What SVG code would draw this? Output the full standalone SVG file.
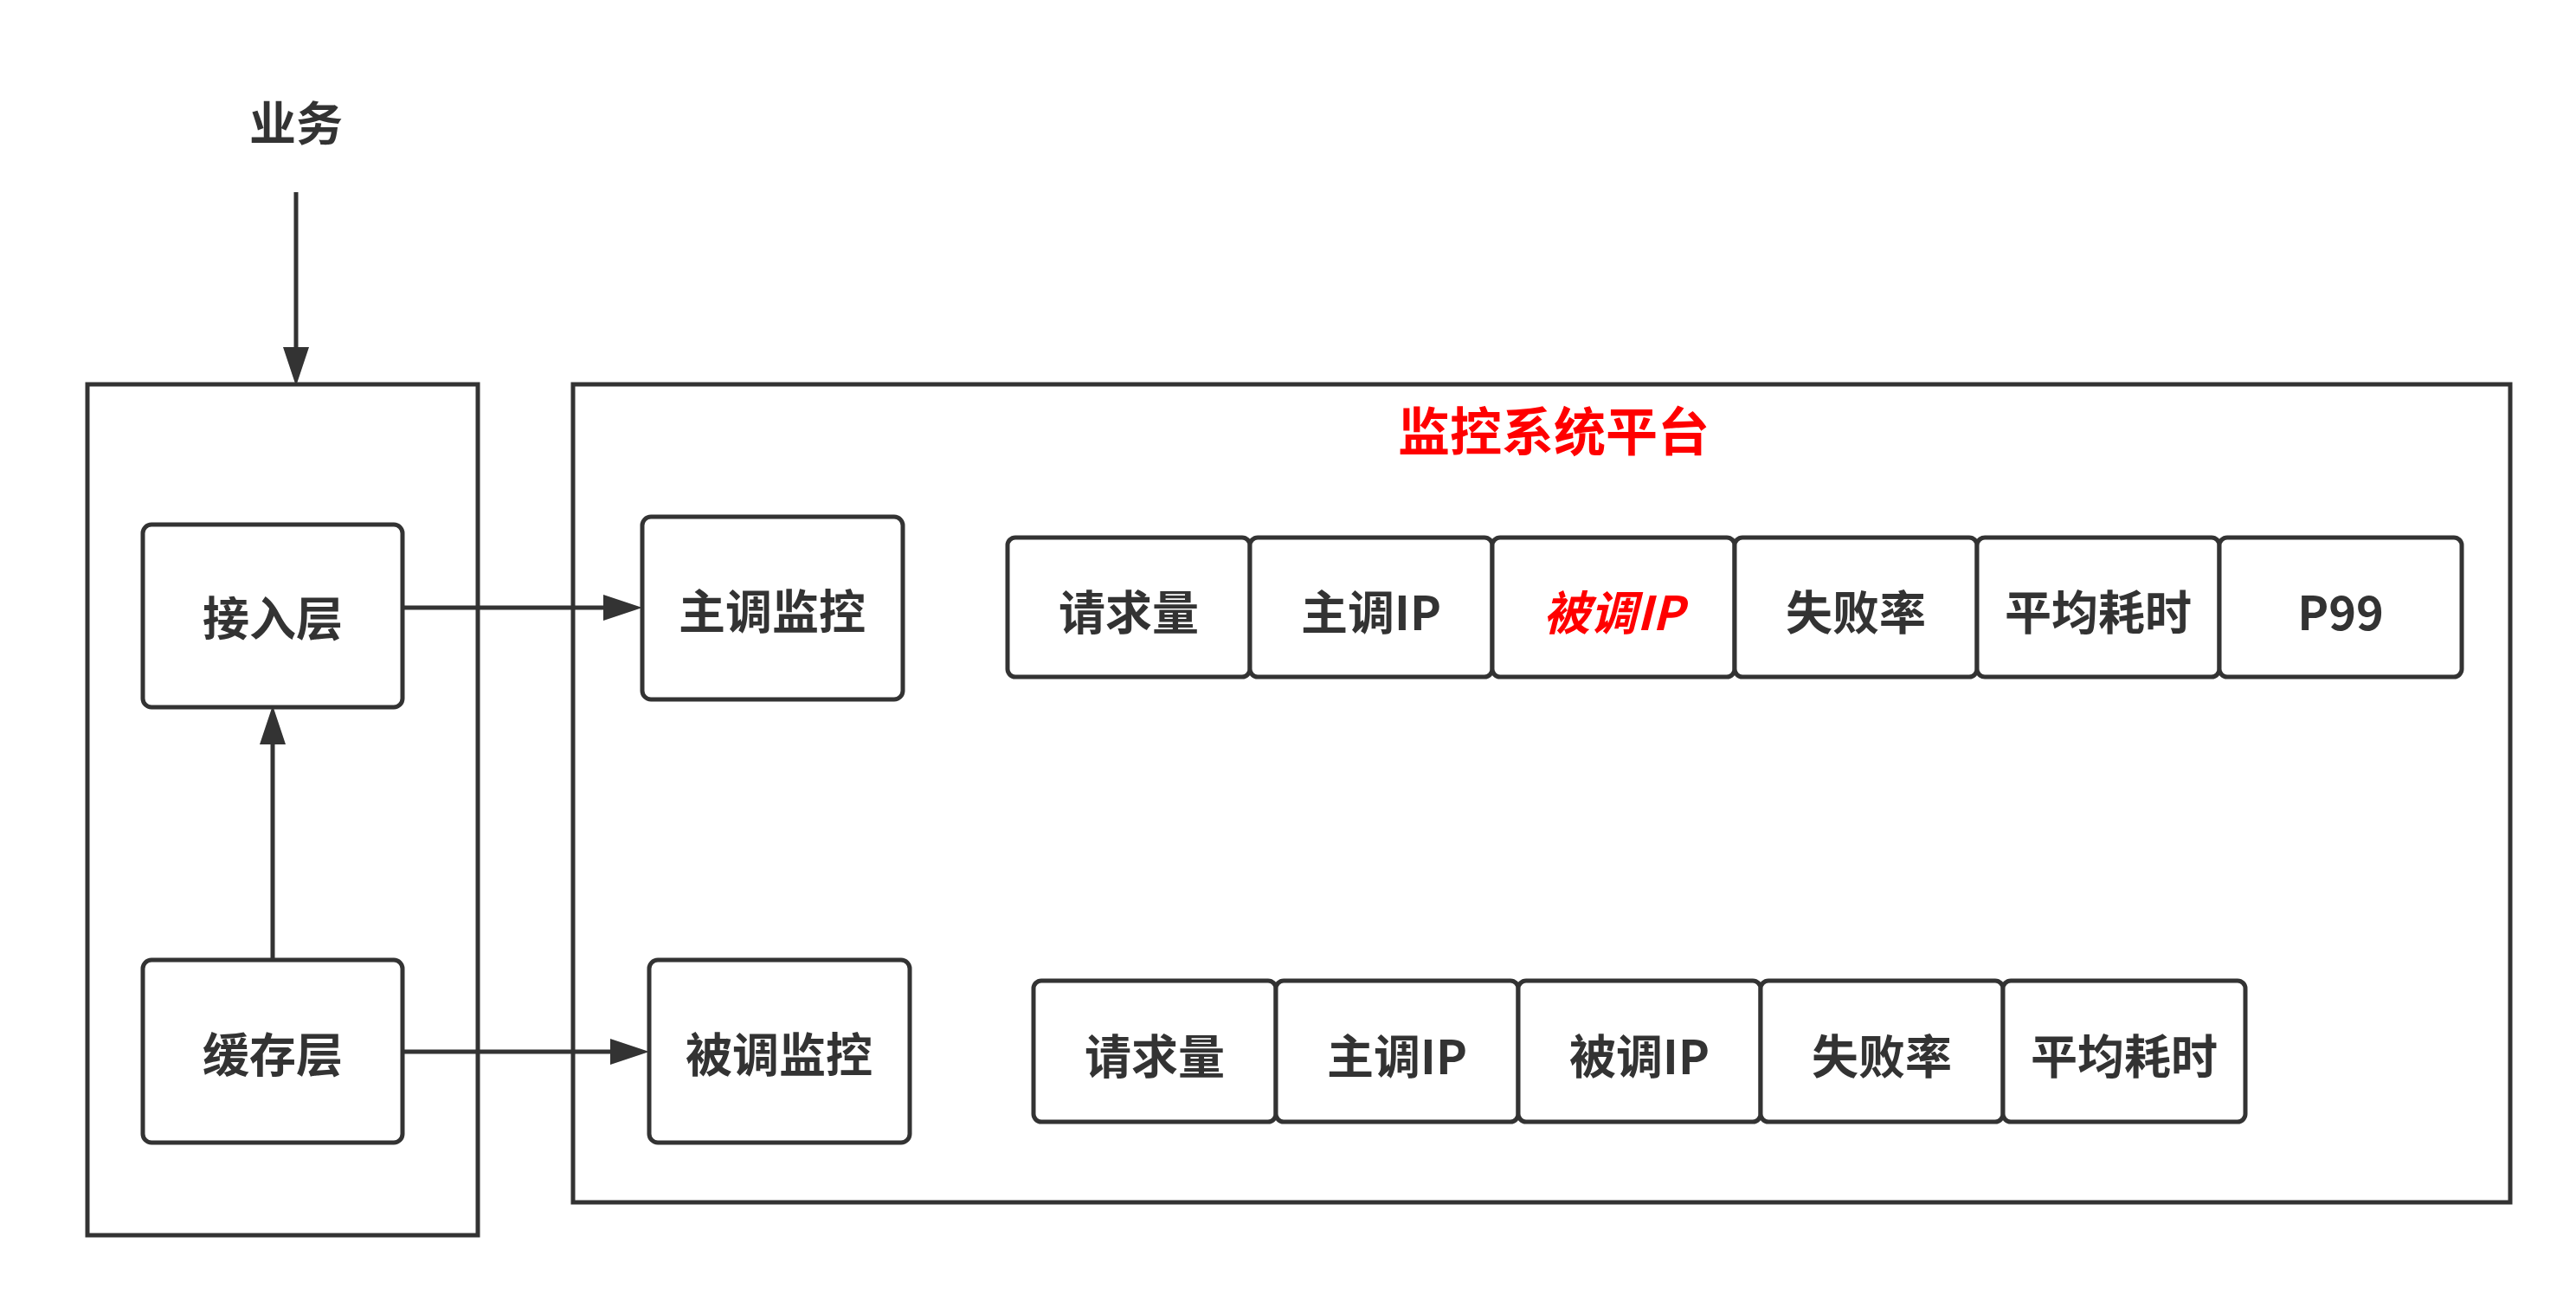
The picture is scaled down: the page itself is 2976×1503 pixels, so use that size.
<svg xmlns="http://www.w3.org/2000/svg" width="2976" height="1503" viewBox="0 0 2976 1503">
<defs>
<style>
.box{fill:#ffffff;stroke:#333333;stroke-width:5}
.frame{fill:none;stroke:#333333;stroke-width:5}
.t{font-family:"Noto Sans CJK SC","Noto Sans",sans-serif;font-weight:bold;font-size:54px;fill:#333333;text-anchor:middle;dominant-baseline:central}
.red{fill:#ff0000}
.edge{fill:none;stroke:#333333;stroke-width:5}
</style>
<marker id="arr" markerUnits="userSpaceOnUse" markerWidth="46" markerHeight="32" refX="1" refY="16" orient="auto">
<path d="M0,1 L45,16 L0,31 z" fill="#333333"/>
</marker>
</defs>
<rect width="2976" height="1503" fill="#ffffff"/>

<g id="frame-left"><rect class="frame" x="101" y="444" width="451" height="983"/></g>
<g id="frame-platform">
<rect class="frame" x="662" y="444" width="2238" height="945"/>
<text class="t red" x="1795" y="494" style="font-size:60px">监控系统平台</text>
</g>

<g id="yewu"><text class="t" x="342" y="139">业务</text></g>

<g id="jieru"><rect class="box" x="165" y="606" width="300" height="211" rx="10"/><text class="t" x="315" y="711">接入层</text></g>
<g id="huancun"><rect class="box" x="165" y="1109" width="300" height="211" rx="10"/><text class="t" x="315" y="1215">缓存层</text></g>
<g id="zhudiao"><rect class="box" x="742" y="597" width="301" height="211" rx="10"/><text class="t" x="892" y="703">主调监控</text></g>
<g id="beidiao"><rect class="box" x="750" y="1109" width="301" height="211" rx="10"/><text class="t" x="900" y="1215">被调监控</text></g>

<g id="r1c1"><rect class="box" x="1164" y="621" width="280" height="161" rx="9"/><text class="t" x="1304" y="704">请求量</text></g>
<g id="r1c2"><rect class="box" x="1444" y="621" width="280" height="161" rx="9"/><text class="t" x="1584" y="704">主调IP</text></g>
<g id="r1c3"><rect class="box" x="1724" y="621" width="280" height="161" rx="9"/><text class="t red" x="1864" y="704" font-style="italic">被调IP</text></g>
<g id="r1c4"><rect class="box" x="2004" y="621" width="280" height="161" rx="9"/><text class="t" x="2144" y="704">失败率</text></g>
<g id="r1c5"><rect class="box" x="2284" y="621" width="280" height="161" rx="9"/><text class="t" x="2424" y="704">平均耗时</text></g>
<g id="r1c6"><rect class="box" x="2564" y="621" width="280" height="161" rx="9"/><text class="t" x="2704" y="704">P99</text></g>

<g id="r2c1"><rect class="box" x="1194" y="1133" width="280" height="163" rx="9"/><text class="t" x="1334" y="1217">请求量</text></g>
<g id="r2c2"><rect class="box" x="1474" y="1133" width="280" height="163" rx="9"/><text class="t" x="1614" y="1217">主调IP</text></g>
<g id="r2c3"><rect class="box" x="1754" y="1133" width="280" height="163" rx="9"/><text class="t" x="1894" y="1217">被调IP</text></g>
<g id="r2c4"><rect class="box" x="2034" y="1133" width="280" height="163" rx="9"/><text class="t" x="2174" y="1217">失败率</text></g>
<g id="r2c5"><rect class="box" x="2314" y="1133" width="280" height="163" rx="9"/><text class="t" x="2454" y="1217">平均耗时</text></g>

<g id="connectors">
<path class="edge" d="M342,222 L342,402" marker-end="url(#arr)"/>
<path class="edge" d="M465,702 L698,702" marker-end="url(#arr)"/>
<path class="edge" d="M465,1215 L706,1215" marker-end="url(#arr)"/>
<path class="edge" d="M315,1109 L315,859" marker-end="url(#arr)"/>
</g>
</svg>
